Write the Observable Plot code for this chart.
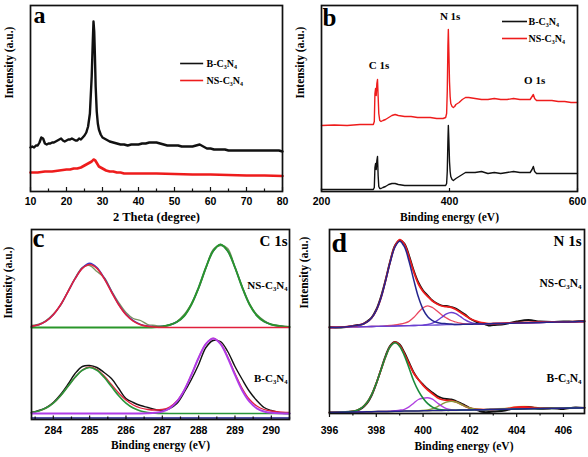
<!DOCTYPE html>
<html><head><meta charset="utf-8">
<script src="https://cdn.jsdelivr.net/npm/d3@7"></script>
<script src="https://cdn.jsdelivr.net/npm/@observablehq/plot@0.6"></script>
<style>
body{margin:0;background:#fff;}
#fig{position:relative;width:588px;height:457px;overflow:hidden;background:#fff;}
.panel{position:absolute;}
</style></head><body><div id="fig"></div>
<script>
// ---------- (a) XRD ----------
const xrdBx = [10,10.5,11,11.5,12,12.5,13,13.5,14,14.5,15,15.5,16,16.5,17,17.5,18,18.5,19,19.5,20,20.5,21,21.5,22,22.5,23,23.5,24,24.5,25,25.5,26,26.5,27,27.3,27.5,27.7,27.9,28.1,28.4,28.7,29,29.5,30,31,32,33,34,35,36,37,38,39,40,41,42,43,44,45,46,47,48,49,50,51,52,53,54,55,56,57,58,59,60,61,62,63,64,65,66,67,68,69,70,71,72,73,74,75,76,77,78,79,80];
const xrdBy = [44,45,44,46,46,49,54,53,48,47,48,48,49,49,50,51,52,53,51,50,51,52,52,53,52,51,51,53,52,54,56,59,65,78,115,150,170,160,135,105,80,68,62,57,54,52,50,49,48,47,47,46,47,47,47,48,48,49,49,49,48,47,46,46,46,46,45,45,45,45,46,47,45,43,43,42,42,42,42,41,41,41,41,41,41,41,41,41,41,41,41,41,41,41,40];
const xrdNSx = [10,12,14,16,18,20,21,22,23,24,25,26,26.5,27,27.5,28,28.5,29,29.5,30,31,32,33,34,35,36,38,40,45,50,55,60,65,70,75,80];
const xrdNSy = [19,19,20,20,21,22,22,23,23,24,26,28,29,30,32,31,28,25,24,23,21,20,20,19,19,18,18,18,18,17.5,17,17,16.5,16,16,15.5];
const xrdTicks = [10,20,30,40,50,60,70,80];
const xrdMinor = [15,25,35,45,55,65,75];

// ---------- (b) XPS survey ----------
const surveyE = [200,220,240,260,281,282.5,283.5,284.5,285.5,286.5,287.5,288.5,289.5,291,293,296,300,305,310,315,320,330,340,350,360,370,380,390,394,395.5,396.5,397.5,398.2,399,400,401,402,404,406,408,410,415,420,425,430,440,450,460,470,480,490,500,510,520,526,529,531,533,536,540,550,560,570,580,590,600];
const surveyNS = [66,66.5,66,67,67,70,98,103,96,108,112,95,78,71,70,71,72,74,76,77,76,75,75,74,74,74,73,73,74,78,100,145,162,140,110,95,88,85,84,85,87,89,92,94,94,93,92,92,93,92,92,93,92,92,92,95,97,93,91,91,91,91,90,90,89,89];
const surveyB = [2,2,2,2,2,4,24,28,22,31,35,16,5,3,3,4,5,7,8,8,7,6,6,6,6,6,6,6,6,8,20,50,66,52,30,20,15,12,11,12,13,15,17,19,19,19,20,18,19,18,19,20,19,19,19,22,25,20,18,18,18,18,18,18,18,18];
const surveyTicks = [200,400,600];
const surveyPeaks = ["C 1s","N 1s","O 1s"];

// ---------- (c) C 1s ----------
const cX = [283.4,283.6,283.8,284.0,284.2,284.4,284.6,284.8,285.0,285.2,285.4,285.6,285.8,286.0,286.2,286.4,286.6,286.8,287.0,287.2,287.4,287.6,287.8,288.0,288.2,288.4,288.6,288.8,289.0,289.2,289.4,289.6,289.8,290.0,290.2,290.4,290.5];
const cNSraw = [94,95.5,99,105.5,114,128,141.5,152,154,148,142,129,117,107,101,99,95,94,93,95,98,105,116,131,151,170,174,171,152,133,116,105,99,95,94,93,93];
const cNSpeak1 = [93.1,94.8,98.4,104.8,114.7,127.5,140.8,151.1,155,151.1,140.8,127.5,114.7,104.8,98.4,94.8,93.1,92.4,92.1,92,92,92,92,92,92,92,92,92,92,92,92,92,92,92,92,92,92];
const cNSenv = [93.1,94.8,98.4,104.8,114.7,127.5,140.8,151.6,156.3,152,141.5,128.2,115.2,105.2,98.8,95.1,93.4,92.8,93.2,94.5,97.5,103.5,115,132,152,168.5,175,168.5,152,132,115,104,98,95,93.5,92.8,92.6];
const cNSpeak2 = [92,92,92,92,92,92,92,92,92,92,92,92,92,92,92,92,92,92.3,93,94.5,97.5,103.5,115,132,152,168.5,175,168.5,152,132,115,104,98,95,93.5,92.8,92.6];
const cBraw = [7,9,12,17,25,35,46,53,54,52,47,41,31,21,17,14,12,10,9,11,16,27,40,55,72,79,78,68,53,40,28,19,12,9,7,6,6];
const cBenv = [7.0,8.5,11.4,16.4,23.8,33.0,42.2,49.5,52.5,50,43.5,35,26.5,19.5,14.5,11.5,10,9.5,10,12.5,18.5,29.3,44.7,61.8,75.7,81,76,62.5,46,31,20,13.5,10,8.5,7.5,7,7];
const cBpeak1 = [7.0,8.5,11.4,16.4,23.8,33.0,42.2,49.3,52,49.3,42.2,33.0,23.8,16.4,11.4,8.5,7.0,6.4,6.1,6,6,6,6,6,6,6,6,6,6,6,6,6,6,6,6,6,6];
const cBpeak2 = [6,6,6,6,6,6,6,6,6,6,6,6,6,6,6,6,6.2,6.7,8.0,11.2,17.8,29.0,44.6,61.8,75.7,81,75.7,61.8,44.6,29.0,17.8,11.2,8.0,6.7,6.2,6.1,6];
const cBaseX = [283.4,290.5];
const cBaseY = [1.5,1.5];
const cTicks = [284,285,286,287,288,289,290];
const cMinor = [283.5,284.5,285.5,286.5,287.5,288.5,289.5,290.5];

// ---------- (d) N 1s ----------
const dX = [396,396.5,397,397.2,397.4,397.6,397.8,398,398.2,398.4,398.6,398.8,399,399.2,399.4,399.6,399.8,400,400.2,400.4,400.6,400.8,401,401.2,401.4,401.6,401.8,402,402.2,402.4,402.6,402.8,403,403.5,404,404.5,405,405.5,406,406.5,406.9];
const dNSbase = [86.0,86.3,86.6,86.7,86.8,86.9,87.0,87.1,87.2,87.3,87.4,87.5,87.7,87.8,87.9,88.0,88.1,88.2,88.3,88.4,88.5,88.6,88.8,88.9,89.0,89.1,89.2,89.3,89.4,89.5,89.6,89.7,89.9,90.1,90.4,90.7,91.0,91.3,91.5,91.8,92.0];
const dNSraw = [86.5,86.0,87.5,88.5,89,92,96,104,117,134,153,168,173,170,158,143,131,123,118,113,110,108,107.5,106.5,105,102,99,95,92.5,90.5,89.5,88,88.5,89.5,92,93.5,92,91.5,92,92,92.5];
const dNSenv = [86.0,86.3,87.6,88.2,89.3,91.4,95.5,103.1,115.5,133.2,152.3,167.5,173.9,169.3,156.4,141.6,129.5,122.0,116.9,112.5,109.5,107.5,106.8,106.2,104.0,101,98,95,93,91.5,90.5,89.9,90.0,90.3,90.8,91.2,91.3,91.4,91.6,91.8,92.0];
const dNSpeak1 = [86.0,86.3,87.6,88.2,89.3,91.4,95.5,103.1,115.5,132.9,151.7,166.5,172.3,166.8,152.2,133.6,116.4,104.2,96.8,92.9,91.0,90.1,89.8,89.4,89.0,89.1,89.2,89.3,89.4,89.5,89.6,89.7,89.9,90.1,90.4,90.7,91.0,91.3,91.5,91.8,92.0];
const dNSpeak2 = [86.0,86.3,86.6,86.7,86.8,86.9,87.0,87.1,87.2,87.6,88.0,88.5,89.3,90.3,92.1,96.0,101.2,105.8,107.7,106.0,102.5,98.5,95.5,93,91.5,90.3,89.6,89.4,89.4,89.5,89.6,89.7,89.9,90.1,90.4,90.7,91.0,91.3,91.5,91.8,92.0];
const dNSpeak3 = [86.0,86.3,86.6,86.7,86.8,86.9,87.0,87.1,87.2,87.3,87.4,87.5,87.7,87.8,87.9,88.0,88.1,88.4,89.0,90.4,92.9,96.3,99.6,101.0,99.8,96.8,93.6,91.3,90.1,89.7,89.6,89.7,89.9,90.1,90.4,90.7,91.0,91.3,91.5,91.8,92.0];
const dBbase = [1.0,1.2,1.4,1.5,1.6,1.7,1.8,1.9,2.0,2.0,2.1,2.2,2.3,2.4,2.5,2.5,2.6,2.7,2.8,2.9,3.0,3.1,3.2,3.2,3.3,3.4,3.5,3.6,3.7,3.8,3.8,3.9,4.0,4.2,4.4,4.7,4.9,5.1,5.3,5.5,5.7];
const dBraw = [1.0,1.5,2.0,3.0,5.5,10,18,30,44,58,68,71.5,69,61,51,41,34,29,24.5,21,17.5,15.5,14.5,14,12.5,10.5,8,5.5,4,2.5,1.5,1.5,2,3,5.5,6.5,4.5,5.5,4.5,6,5.5];
const dBenv = [1.0,1.2,2.2,3.5,6.1,10.9,18.9,30.1,43.6,56.9,67.2,71.3,68.1,59.7,49.7,40.3,34.0,28.1,23.5,19.7,16.1,14.0,13.1,12.9,11.6,9.5,7.2,5.5,4.5,4.1,3.9,3.9,4.0,4.6,6.3,6.4,5.3,5.3,5.3,5.5,5.7];
const dBpeak1 = [1.0,1.2,2.2,3.5,6.1,10.9,18.9,30.1,43.6,56.9,66.9,70.7,67.1,57.9,45.5,32.5,22.6,15.2,9.8,6.4,4.6,3.7,3.2,3.2,3.3,3.4,3.5,3.6,3.7,3.8,3.8,3.9,4.0,4.2,4.4,4.7,4.9,5.1,5.3,5.5,5.7];
const dBpeak2 = [1.0,1.2,1.4,1.5,1.6,1.7,1.8,1.9,2.0,2.0,2.4,2.8,3.3,4.2,6.7,10.3,14.0,15.3,15.7,14.3,10.8,7.3,4.9,3.8,3.4,3.4,3.5,3.6,3.7,3.8,3.8,3.9,4.0,4.2,4.4,4.7,4.9,5.1,5.3,5.5,5.7];
const dBpeak3 = [1.0,1.2,1.4,1.5,1.6,1.7,1.8,1.9,2.0,2.0,2.1,2.2,2.3,2.4,2.5,2.5,2.6,3.0,3.6,4.8,6.7,9.2,11.4,12.3,11.5,9.5,7.2,5.5,4.5,4.1,3.8,3.9,4.0,4.2,4.4,4.7,4.9,5.1,5.3,5.5,5.7];
const dBpeak4 = [1.0,1.2,1.4,1.5,1.6,1.7,1.8,1.9,2.0,2.0,2.1,2.2,2.3,2.4,2.5,2.5,2.6,2.7,2.8,2.9,3.0,3.1,3.2,3.2,3.3,3.4,3.5,3.6,3.7,3.8,3.8,3.9,4.3,5.0,6.6,6.8,5.5,5.2,5.3,5.5,5.7];
const dTicks = [396,398,400,402,404,406];
const dMinor = [397,399,401,403,405];

const seriesNames = ["B-C\u2083N\u2084","NS-C\u2083N\u2084"];

// ---------- helpers ----------
const SANS = "'Liberation Sans', Arial, sans-serif";
const SERIF = "'Liberation Serif', 'Times New Roman', serif";
const fig = document.getElementById("fig");
const rows = (xs, ys) => xs.map((x, i) => ({x, y: ys[i]}));
const line = (xs, ys, stroke, strokeWidth = 1.3, curve = "linear") =>
  Plot.line(rows(xs, ys), {x: "x", y: "y", stroke, strokeWidth, curve, strokeLinejoin: "round"});
const ticksIn = (vals, len) => Plot.ruleX(vals, {x: d => d, y1: 0, y2: len, stroke: "#111", strokeWidth: 1.2});
const txt = (s, o) => Plot.text([s], {text: d => d, fontFamily: SERIF, fontWeight: "bold", ...o});
const xLabels = (ticks, pad) => Plot.axisX(ticks, {tickSize: 0, tickPadding: pad, label: null, fontSize: 10.5, fontWeight: "bold", fontFamily: SANS, tickFormat: d => String(d)});
const frame = () => Plot.frame({stroke: "#111", strokeWidth: 1.7});

function panel({left, top, width, height, mt, mb, ml, mr, xDomain, marks}) {
  const H = height - mt - mb;
  const svg = Plot.plot({
    width, height, marginTop: mt, marginBottom: mb, marginLeft: ml, marginRight: mr,
    x: {domain: xDomain}, y: {domain: [0, H], axis: null},
    style: {fontFamily: SANS, fontSize: "10px", background: "transparent", overflow: "visible"},
    marks
  });
  const div = document.createElement("div");
  div.className = "panel"; div.style.left = left + "px"; div.style.top = top + "px";
  div.appendChild(svg); fig.appendChild(div);
}

// ---------- panel a ----------
panel({left: 0, top: 0, width: 294, height: 228, mt: 5, mb: 37, ml: 30, mr: 12, xDomain: [10, 80], marks: [
  line(xrdNSx, xrdNSy, "#ee1c1c", 2.6),
  line(xrdBx, xrdBy, "#111", 2.4),
  ticksIn(xrdTicks, 4), ticksIn(xrdMinor, 2.5),
  xLabels(xrdTicks, 6),
  Plot.ruleY([128], {x1: 51.7, x2: 58.1, stroke: "#111", strokeWidth: 1.6}),
  Plot.ruleY([111], {x1: 51.7, x2: 58.1, stroke: "#ee1c1c", strokeWidth: 1.6}),
  txt(seriesNames[0], {x: 58.9, y: 128, textAnchor: "start", fontSize: 10}),
  txt(seriesNames[1], {x: 58.9, y: 111, textAnchor: "start", fontSize: 10}),
  txt("a", {frameAnchor: "top-left", dx: 3, dy: 17, lineAnchor: "bottom", textAnchor: "start", fontSize: 24}),
  txt("2 Theta (degree)", {frameAnchor: "bottom", dy: 29, fontSize: 12.5}),
  txt("Intensity (a.u.)", {frameAnchor: "left", rotate: -90, dx: -21, fontSize: 11.5}),
  frame()
]});

// ---------- panel b ----------
panel({left: 294, top: 0, width: 294, height: 228, mt: 5, mb: 37, ml: 27, mr: 11, xDomain: [200, 600], marks: [
  line(surveyE, surveyNS, "#ee1c1c", 1.4),
  line(surveyE, surveyB, "#111", 1.4),
  ticksIn(surveyTicks, 3),
  xLabels(surveyTicks, 6),
  Plot.text(surveyPeaks, {x: [290, 401, 533], y: [126, 175, 111], text: d => d, fontFamily: SERIF, fontWeight: "bold", fontSize: 11}),
  Plot.ruleY([170], {x1: 482.8, x2: 521.9, stroke: "#111", strokeWidth: 1.6}),
  Plot.ruleY([153], {x1: 482.8, x2: 521.9, stroke: "#ee1c1c", strokeWidth: 1.6}),
  txt(seriesNames[0], {x: 523.4, y: 170, textAnchor: "start", fontSize: 10}),
  txt(seriesNames[1], {x: 523.4, y: 153, textAnchor: "start", fontSize: 10}),
  txt("b", {frameAnchor: "top-left", dx: 1, dy: 20, lineAnchor: "bottom", textAnchor: "start", fontSize: 25}),
  txt("Binding energy (eV)", {frameAnchor: "bottom", dy: 29, fontSize: 11.5}),
  txt("Intensity (a.u.)", {frameAnchor: "left", rotate: -90, dx: -21, fontSize: 11.5}),
  frame()
]});

// ---------- panel c ----------
panel({left: 0, top: 228, width: 294, height: 229, mt: 1, mb: 38, ml: 31, mr: 5, xDomain: [283.4, 290.5], marks: [
  line(cBaseX, cBaseY, "#1a1a8a", 1.6),
  line(cX, cNSraw, "#7a9460", 1.3, "catmull-rom"),
  line(cX, cNSenv, "#3636c8", 1.5, "catmull-rom"),
  line(cX, cNSpeak2, "#2a962a", 2.0, "catmull-rom"),
  line(cX, cNSpeak1, "#e0203c", 1.6, "catmull-rom"),
  line(cX, cBraw, "#111", 1.4, "catmull-rom"),
  line(cX, cBenv, "#e0203c", 1.3, "catmull-rom"),
  line(cX, cBpeak1, "#2a963a", 1.7, "catmull-rom"),
  line(cX, cBpeak2, "#b03ce8", 2.0, "catmull-rom"),
  ticksIn(cTicks, 3.5), ticksIn(cMinor, 2.5),
  xLabels(cTicks, 7.5),
  txt("c", {frameAnchor: "top-left", dx: 1, dy: 17, lineAnchor: "bottom", textAnchor: "start", fontSize: 27}),
  txt("C 1s", {frameAnchor: "top-right", dx: -2, dy: 16, lineAnchor: "bottom", textAnchor: "end", fontSize: 15}),
  txt(seriesNames[1], {frameAnchor: "top-right", dx: -2, dy: 52, textAnchor: "end", fontSize: 11}),
  txt(seriesNames[0], {frameAnchor: "top-right", dx: -2, dy: 145, textAnchor: "end", fontSize: 11}),
  txt("Binding energy (eV)", {frameAnchor: "bottom", dy: 29, fontSize: 11.5}),
  txt("Intensity (a.u.)", {frameAnchor: "left", rotate: -90, dx: -23, dy: -6, fontSize: 11.5}),
  frame()
]});

// ---------- panel d ----------
panel({left: 294, top: 228, width: 294, height: 229, mt: 1, mb: 44, ml: 35, mr: 4, xDomain: [396, 406.9], marks: [
  line(dX, dNSbase, "#6a4ad4", 1.3),
  line(dX, dNSraw, "#111", 1.8, "catmull-rom"),
  line(dX, dNSpeak2, "#ea4860", 1.3, "catmull-rom"),
  line(dX, dNSpeak3, "#6a3fd0", 1.4, "catmull-rom"),
  line(dX, dNSenv, "#ee1c1c", 1.8, "catmull-rom"),
  line(dX, dNSpeak1, "#25258f", 1.5, "catmull-rom"),
  line(dX, dBpeak4, "#e6e6a0", 2.0, "catmull-rom"),
  line(dX, dBraw, "#111", 1.8, "catmull-rom"),
  line(dX, dBenv, "#ee1c1c", 1.8, "catmull-rom"),
  line(dX, dBpeak3, "#8a9a40", 1.4, "catmull-rom"),
  line(dX, dBpeak2, "#b040e0", 1.4, "catmull-rom"),
  line(dX, dBpeak1, "#1a8a3a", 1.6, "catmull-rom"),
  line(dX, dBbase, "#23238c", 1.5),
  Plot.ruleX(dTicks, {x: d => d, y1: 0, y2: -4, stroke: "#111", strokeWidth: 1.2}),
  Plot.ruleX(dMinor, {x: d => d, y1: 0, y2: -2.5, stroke: "#111", strokeWidth: 1.2}),
  xLabels(dTicks, 13),
  txt("d", {frameAnchor: "top-left", dx: 2, dy: 22, lineAnchor: "bottom", textAnchor: "start", fontSize: 28}),
  txt("N 1s", {frameAnchor: "top-right", dx: -3, dy: 16, lineAnchor: "bottom", textAnchor: "end", fontSize: 15}),
  txt(seriesNames[1], {frameAnchor: "top-right", dx: -3, dy: 49, textAnchor: "end", fontSize: 11.5}),
  txt(seriesNames[0], {frameAnchor: "top-right", dx: -3, dy: 144, textAnchor: "end", fontSize: 11.5}),
  txt("Binding energy (eV)", {frameAnchor: "bottom", dx: 7, dy: 36, fontSize: 11.5}),
  txt("Intensity (a.u.)", {frameAnchor: "left", rotate: -90, dx: -25, dy: -13, fontSize: 11.5}),
  frame()
]});
</script></body></html>
